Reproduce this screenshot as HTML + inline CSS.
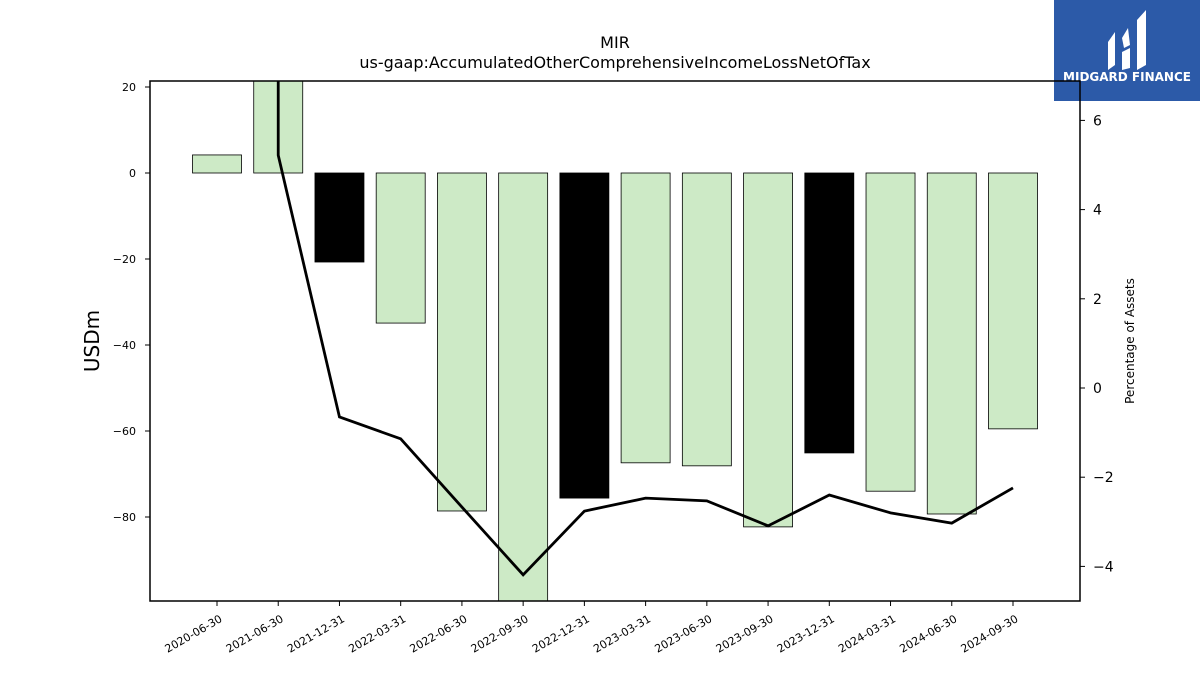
<!DOCTYPE html>
<html><head><meta charset="utf-8"><style>
body{margin:0;background:#fff;font-family:"Liberation Sans","DejaVu Sans",sans-serif}
svg text{font-family:"DejaVu Sans","Liberation Sans",sans-serif}
</style></head><body>
<svg id="c" width="1200" height="675">
<rect x="1054" y="0" width="146" height="101" fill="#2c5aa8"/>
<g fill="#fff">
<path d="M1108 42 L1115 32 L1115 65 L1108 70 Z"/>
<path d="M1122 38 L1128 28 L1130 45 L1124 48 Z M1122 52 L1130 48 L1130 68 L1122 70 Z"/>
<path d="M1137 20 L1146 10 L1146 65 L1137 70 Z"/>
</g>
<text x="1127" y="81" fill="#fff" font-size="12" font-weight="bold" text-anchor="middle">MIDGARD FINANCE</text>
<text x="615" y="48" font-size="16" text-anchor="middle">MIR</text>
<text x="615" y="68" font-size="16" text-anchor="middle">us-gaap:AccumulatedOtherComprehensiveIncomeLossNetOfTax</text>
<text transform="translate(99,341) rotate(-90)" font-size="20" text-anchor="middle">USDm</text>
<text transform="translate(1134,341) rotate(-90)" font-size="12" text-anchor="middle">Percentage of Assets</text>
<g id="g"></g>
</svg>
<script>
const categories=["2020-06-30","2021-06-30","2021-12-31","2022-03-31","2022-06-30","2022-09-30","2022-12-31","2023-03-31","2023-06-30","2023-09-30","2023-12-31","2024-03-31","2024-06-30","2024-09-30"];
const barValues=[4.2,25,-20.7,-34.9,-78.6,-105,-75.6,-67.4,-68.1,-82.3,-65.1,-74,-79.3,-59.5];
const yearEnd=[false,false,true,false,false,false,true,false,false,false,true,false,false,false];
const lineIdx=[1,1,2,3,4,5,6,7,8,9,10,11,12,13];
const lineValues=[12,5.22,-0.65,-1.14,-2.67,-4.19,-2.76,-2.47,-2.53,-3.09,-2.4,-2.8,-3.03,-2.24];
const yTicks=[20,0,-20,-40,-60,-80];
const y2Ticks=[6,4,2,0,-2,-4];
const L=150,R=1080,T=81,B=601;
const x=i=>217+i*61.23;
const y=v=>173-v*4.3;
const y2=v=>388-v*44.6;
const ns="http://www.w3.org/2000/svg",g=document.getElementById('g');
function mk(t,a,p){const e=document.createElementNS(ns,t);for(const k in a)e.setAttribute(k,a[k]);(p||g).appendChild(e);return e;}
mk('clipPath',{id:'clip'}).appendChild(Object.assign(document.createElementNS(ns,'rect'),{}));
const cr=g.querySelector('clipPath');cr.firstChild.setAttribute('x',L);cr.firstChild.setAttribute('y',T);cr.firstChild.setAttribute('width',R-L);cr.firstChild.setAttribute('height',B-T);
const pl=mk('g',{'clip-path':'url(#clip)'});
barValues.forEach((v,i)=>{const y0=y(0),y1=y(v);
const r=mk('rect',{x:x(i)-24.5,y:Math.min(y0,y1),width:49,height:Math.abs(y1-y0),fill:yearEnd[i]?'#000':'#cdeac6',stroke:'#000','stroke-width':0.8},pl);

});
const ln=mk('polyline',{points:lineIdx.map((k,j)=>x(k)+','+y2(lineValues[j])).join(' '),fill:'none',stroke:'#000','stroke-width':2.8},pl);


const fr=mk('rect',{x:L,y:T,width:R-L,height:B-T,fill:'none',stroke:'#000','stroke-width':1.5});


yTicks.forEach(v=>{mk('line',{x1:L-5,x2:L,y1:y(v),y2:y(v),stroke:'#000'});
const t=mk('text',{x:L-14,y:y(v)+4,'font-size':11,'text-anchor':'end'});t.textContent=v<0?'\u2212'+(-v):v;

});
y2Ticks.forEach(v=>{mk('line',{x1:R,x2:R+5,y1:y2(v),y2:y2(v),stroke:'#000'});
const t=mk('text',{x:R+13,y:y2(v)+5,'font-size':14});t.textContent=v<0?'\u2212'+(-v):v;

});
categories.forEach((c,i)=>{mk('line',{x1:x(i),x2:x(i),y1:B,y2:B+5,stroke:'#000'});
const t=mk('text',{transform:`translate(${x(i)+6},${B+20}) rotate(-30)`,'font-size':11,'text-anchor':'end'});t.textContent=c;

});
</script>
</body></html>
